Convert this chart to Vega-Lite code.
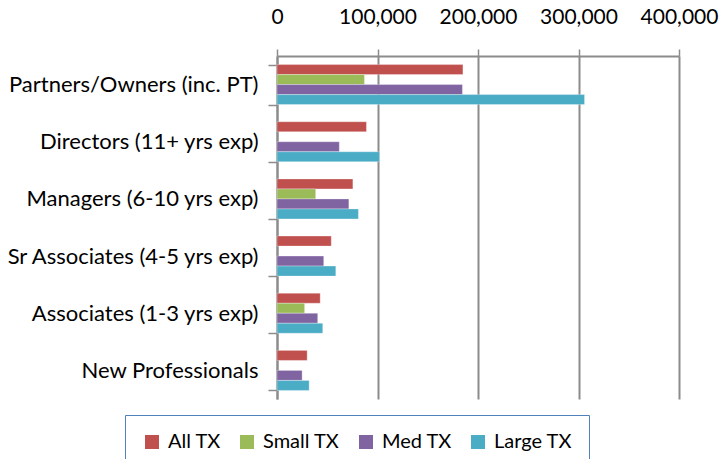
{
  "$schema": "https://vega.github.io/schema/vega-lite/v6.json",
  "autosize": "none",
  "width": 402,
  "height": 343,
  "padding": {"left": 277, "top": 56, "right": 40, "bottom": 60},
  "background": "white",
  "config": {
    "view": {"stroke": null},
    "font": "Lato"
  },
  "data": {
    "values": [
      {"role": "Partners/Owners (inc. PT)", "series": "All TX", "value": 185000},
      {"role": "Partners/Owners (inc. PT)", "series": "Small TX", "value": 87000},
      {"role": "Partners/Owners (inc. PT)", "series": "Med TX", "value": 184500},
      {"role": "Partners/Owners (inc. PT)", "series": "Large TX", "value": 306000},
      {"role": "Directors (11+ yrs exp)\u00a0", "series": "All TX", "value": 89000},
      {"role": "Directors (11+ yrs exp)\u00a0", "series": "Med TX", "value": 62000},
      {"role": "Directors (11+ yrs exp)\u00a0", "series": "Large TX", "value": 102000},
      {"role": "Managers (6-10 yrs exp)", "series": "All TX", "value": 75500},
      {"role": "Managers (6-10 yrs exp)", "series": "Small TX", "value": 38500},
      {"role": "Managers (6-10 yrs exp)", "series": "Med TX", "value": 71500},
      {"role": "Managers (6-10 yrs exp)", "series": "Large TX", "value": 81000},
      {"role": "Sr Associates (4-5 yrs exp)", "series": "All TX", "value": 54000},
      {"role": "Sr Associates (4-5 yrs exp)", "series": "Med TX", "value": 46500},
      {"role": "Sr Associates (4-5 yrs exp)", "series": "Large TX", "value": 58500},
      {"role": "Associates (1-3 yrs exp)", "series": "All TX", "value": 43000},
      {"role": "Associates (1-3 yrs exp)", "series": "Small TX", "value": 27500},
      {"role": "Associates (1-3 yrs exp)", "series": "Med TX", "value": 40500},
      {"role": "Associates (1-3 yrs exp)", "series": "Large TX", "value": 45500},
      {"role": "New Professionals", "series": "All TX", "value": 30000},
      {"role": "New Professionals", "series": "Med TX", "value": 25000},
      {"role": "New Professionals", "series": "Large TX", "value": 32000}
    ]
  },
  "mark": {"type": "bar", "stroke": "white", "strokeOpacity": 0.5, "strokeWidth": 0.6},
  "encoding": {
    "y": {
      "field": "role",
      "type": "nominal",
      "sort": null,
      "scale": {"paddingInner": 0.3, "paddingOuter": 0.15},
      "axis": {
        "title": null,
        "tickBand": "extent",
        "tickSize": 9,
        "tickColor": "#8c8c8c",
        "tickWidth": 1.5,
        "domainColor": "#8c8c8c",
        "domainWidth": 2,
        "labelFont": "Lato",
        "labelFontSize": 22,
        "labelColor": "#000000",
        "labelPadding": 10,
        "labelLimit": 400
      }
    },
    "yOffset": {
      "field": "series",
      "type": "nominal",
      "sort": ["All TX", "Small TX", "Med TX", "Large TX"],
      "scale": {"paddingInner": 0, "paddingOuter": 0}
    },
    "x": {
      "field": "value",
      "type": "quantitative",
      "scale": {"domain": [0, 400000], "nice": false},
      "axis": {
        "orient": "top",
        "title": null,
        "values": [0, 100000, 200000, 300000, 400000],
        "format": ",d",
        "grid": true,
        "gridColor": "#8c8c8c",
        "gridWidth": 2,
        "tickColor": "#8c8c8c",
        "tickWidth": 1.5,
        "tickSize": 7,
        "domainColor": "#8c8c8c",
        "domainWidth": 2,
        "labelFont": "Lato",
        "labelFontSize": 21,
        "labelColor": "#000000",
        "labelPadding": 22,
        "labelFlush": false
      }
    },
    "color": {
      "field": "series",
      "type": "nominal",
      "sort": ["All TX", "Small TX", "Med TX", "Large TX"],
      "scale": {
        "domain": ["All TX", "Small TX", "Med TX", "Large TX"],
        "range": ["#C0504D", "#9BBB59", "#8064A2", "#4BACC6"]
      },
      "legend": {
        "title": null,
        "orient": "none",
        "direction": "horizontal",
        "columns": 4,
        "legendX": -152,
        "legendY": 359,
        "padding": 17,
        "strokeColor": "#4F81BD",
        "fillColor": "white",
        "symbolType": "square",
        "symbolSize": 196,
        "symbolStrokeWidth": 0,
        "symbolOpacity": 1,
        "labelFont": "Lato",
        "labelFontSize": 20,
        "labelColor": "#000000",
        "labelOffset": 6,
        "columnPadding": 16
      }
    }
  }
}
